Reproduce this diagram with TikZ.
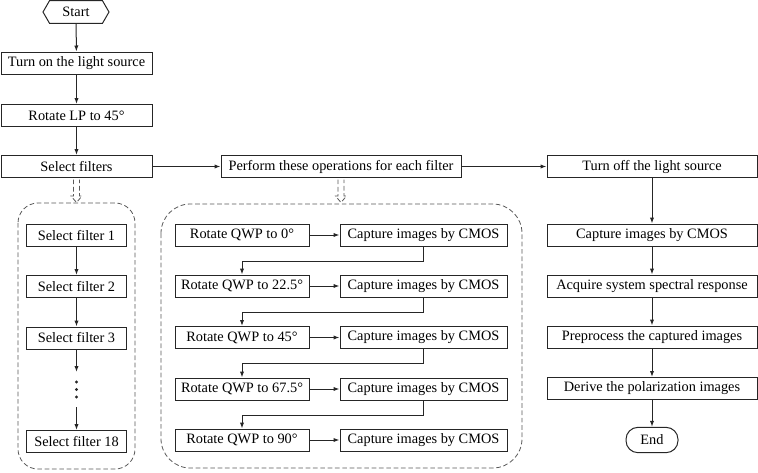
\documentclass[tikz,border=0pt]{standalone}
\usepackage{fontspec}
\setmainfont{Liberation Serif}
\usetikzlibrary{shapes.symbols,arrows.meta}

\tikzset{
  every picture/.style={line width=0.75pt},
  proc/.style={draw=black!85, rectangle, inner sep=0pt, minimum height=16.5pt, font=\fontsize{10.75}{12}\selectfont},
  mainbox/.style={proc, minimum width=113.25pt},
  filterbox/.style={proc, minimum width=75pt},
  qwpbox/.style={proc, minimum width=100.5pt},
  cmosbox/.style={proc, minimum width=125.25pt},
  rightbox/.style={proc, minimum width=157.5pt},
  arr/.style={draw=black!85, -{Latex[length=4.5pt,width=3.2pt]}},
  group/.style={draw=black!65, dash pattern=on 3.5pt off 2pt, line width=0.6pt}
}

\begin{document}
\begin{tikzpicture}[x=0.75pt,y=0.75pt,yscale=-1,xscale=1]
		\useasboundingbox (0,0) rectangle (758,472);
		
		%left column
		\node[proc, shape=signal, signal to=west and east, signal pointer angle=120, minimum width=49.5pt, minimum height=17pt] (start) at (76,12) {Start};
		\node[mainbox] (on) at (76.5,63) {Turn on the light source};
		\node[mainbox] (lp) at (76.5,115.5) {Rotate LP to 45°};
		\node[mainbox] (sel) at (76.5,166.5) {Select filters};
		\node[proc, minimum width=180pt] (each) at (341,166.5) {Perform these operations for each filter};
		\node[rightbox] (off) at (652,166.5) {Turn off the light source};
		
		\draw[arr] (start) -- (on);
		\draw[arr] (on) -- (lp);
		\draw[arr] (lp) -- (sel);
		\draw[arr] (sel) -- (each);
		\draw[arr] (each) -- (off);
		
		%filter group
		\draw[group, rounded corners=15pt] (18,203) rectangle (135,469);
		\draw[group] (sel.south) ++(-3,1.5) -- ++(0,16.5) -- ++(-2.5,0) -- ++(5.5,6.5) -- ++(5.5,-6.5) -- ++(-2.5,0) -- ++(0,-16.5);
		\node[filterbox] (f1) at (76.5,235.5) {Select filter 1};
		\node[filterbox] (f2) at (76.5,286.5) {Select filter 2};
		\node[filterbox] (f3) at (76.5,338) {Select filter 3};
		\node[filterbox] (f18) at (76.5,441.5) {Select filter 18};
		\coordinate (dotstop) at (76.5,372);
		\coordinate (dotsbot) at (76.5,407);
		\foreach \y in {382,389.5,397} \fill[black!85] (76.5,\y) circle (1.6);
		\draw[arr] (f1) -- (f2);
		\draw[arr] (f2) -- (f3);
		\draw[arr] (f3) -- (dotstop);
		\draw[arr] (dotsbot) -- (f18);
		
		%QWP group
		\draw[group, rounded corners=22pt] (161,204) rectangle (522,468);
		\draw[group] (each.south) ++(-3,1.5) -- ++(0,16.5) -- ++(-2.5,0) -- ++(5.5,6.5) -- ++(5.5,-6.5) -- ++(-2.5,0) -- ++(0,-16.5);
		\node[qwpbox] (rot1) at (242,235) {Rotate QWP to 0°};
		\node[qwpbox] (rot2) at (242,286) {Rotate QWP to 22.5°};
		\node[qwpbox] (rot3) at (242,337.5) {Rotate QWP to 45°};
		\node[qwpbox] (rot4) at (242,389) {Rotate QWP to 67.5°};
		\node[qwpbox] (rot5) at (242,440) {Rotate QWP to 90°};
		\node[cmosbox] (cap1) at (423.5,235) {Capture images by CMOS};
		\node[cmosbox] (cap2) at (423.5,286) {Capture images by CMOS};
		\node[cmosbox] (cap3) at (423.5,337.5) {Capture images by CMOS};
		\node[cmosbox] (cap4) at (423.5,389) {Capture images by CMOS};
		\node[cmosbox] (cap5) at (423.5,440) {Capture images by CMOS};
		\draw[arr] (rot1) -- (cap1);
		\draw[arr] (rot2) -- (cap2);
		\draw[arr] (rot3) -- (cap3);
		\draw[arr] (rot4) -- (cap4);
		\draw[arr] (rot5) -- (cap5);
		\draw[arr] (cap1.south) -- ++(0,14.5) -| (rot2.north);
		\draw[arr] (cap2.south) -- ++(0,14.5) -| (rot3.north);
		\draw[arr] (cap3.south) -- ++(0,14.5) -| (rot4.north);
		\draw[arr] (cap4.south) -- ++(0,14.5) -| (rot5.north);
		
		%right column
		\node[rightbox] (cmos) at (652,235) {Capture images by CMOS};
		\node[rightbox] (acq) at (652,286) {Acquire system spectral response};
		\node[rightbox] (pre) at (652,337) {Preprocess the captured images};
		\node[rightbox] (der) at (652,388.5) {Derive the polarization images};
		\node[proc, rounded corners=9pt, minimum width=39pt, minimum height=19pt] (end) at (652,440) {End};
		\draw[arr] (off) -- (cmos);
		\draw[arr] (cmos) -- (acq);
		\draw[arr] (acq) -- (pre);
		\draw[arr] (pre) -- (der);
		\draw[arr] (der) -- (end);
		
	\end{tikzpicture}
\end{document}
